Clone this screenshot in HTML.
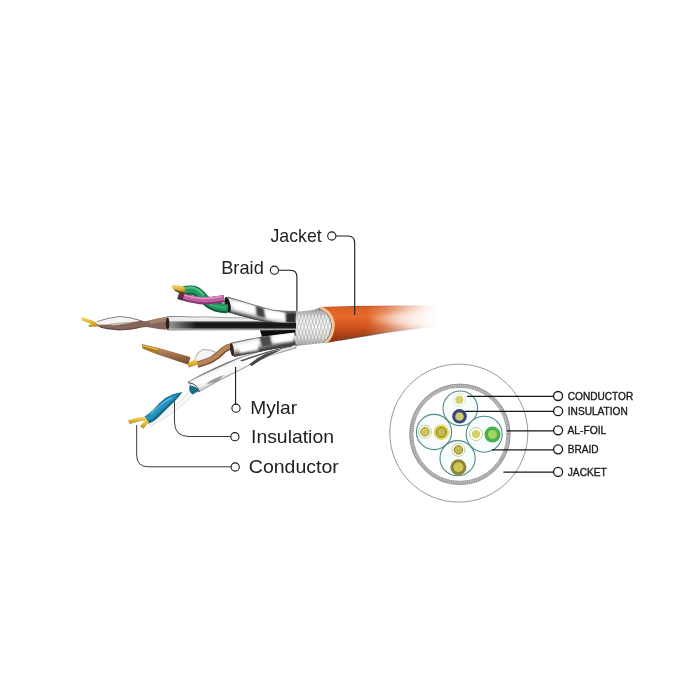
<!DOCTYPE html>
<html lang="en">
<head>
<meta charset="utf-8">
<title>Cable structure</title>
<style>
html,body{margin:0;padding:0;background:#fff;}
body{width:700px;height:700px;overflow:hidden;}
svg{display:block;}
.lbl{font-family:"Liberation Sans",sans-serif;font-size:19px;fill:#222;}
.cap{font-family:"Liberation Sans",sans-serif;font-size:10.2px;fill:#1a1a1a;stroke:#1a1a1a;stroke-width:0.35;}
.ld{fill:none;stroke:#1a1a1a;stroke-width:1.1;}
.dot{fill:#fff;stroke:#1a1a1a;stroke-width:1.1;}
</style>
</head>
<body>
<svg width="700" height="700" viewBox="0 0 700 700">
<defs>
<linearGradient id="gJ" x1="0" y1="0" x2="0" y2="1">
<stop offset="0" stop-color="#b04c1c"/>
<stop offset="0.08" stop-color="#dc5f26"/>
<stop offset="0.3" stop-color="#e66a2a"/>
<stop offset="0.55" stop-color="#d2561e"/>
<stop offset="0.78" stop-color="#ae4216"/>
<stop offset="0.94" stop-color="#8e3614"/>
<stop offset="1" stop-color="#7e3c22"/>
</linearGradient>
<linearGradient id="gFade" gradientUnits="userSpaceOnUse" x1="366" y1="0" x2="436" y2="0">
<stop offset="0" stop-color="#fff" stop-opacity="0"/>
<stop offset="0.3" stop-color="#fff" stop-opacity="0.28"/>
<stop offset="0.6" stop-color="#fff" stop-opacity="0.66"/>
<stop offset="0.85" stop-color="#fff" stop-opacity="0.92"/>
<stop offset="1" stop-color="#fff" stop-opacity="1"/>
</linearGradient>
<radialGradient id="gGlow" cx="0.5" cy="0.5" r="0.5">
<stop offset="0" stop-color="#fff" stop-opacity="0.7"/>
<stop offset="0.5" stop-color="#fff" stop-opacity="0.45"/>
<stop offset="0.8" stop-color="#fff" stop-opacity="0.15"/>
<stop offset="1" stop-color="#fff" stop-opacity="0"/>
</radialGradient>
<linearGradient id="gBr" x1="0" y1="0" x2="0" y2="1">
<stop offset="0" stop-color="#6e6e6e"/>
<stop offset="0.1" stop-color="#b8b8b8"/>
<stop offset="0.25" stop-color="#f0f0f0"/>
<stop offset="0.5" stop-color="#fbfbfb"/>
<stop offset="0.75" stop-color="#e4e4e4"/>
<stop offset="0.92" stop-color="#b4b4b4"/>
<stop offset="1" stop-color="#707070"/>
</linearGradient>
<linearGradient id="gTA" gradientUnits="userSpaceOnUse" x1="262" y1="306" x2="258" y2="321">
<stop offset="0" stop-color="#777"/>
<stop offset="0.12" stop-color="#e4e4e4"/>
<stop offset="0.4" stop-color="#f6f6f6"/>
<stop offset="0.7" stop-color="#c8c8c8"/>
<stop offset="0.9" stop-color="#6a6a6a"/>
<stop offset="1" stop-color="#2a2a2a"/>
</linearGradient>
<linearGradient id="gTB" gradientUnits="userSpaceOnUse" x1="0" y1="316.4" x2="0" y2="331">
<stop offset="0" stop-color="#5a5a5a"/>
<stop offset="0.08" stop-color="#f4f4f4"/>
<stop offset="0.3" stop-color="#e6e6e6"/>
<stop offset="0.4" stop-color="#2a2a2a"/>
<stop offset="0.55" stop-color="#141414"/>
<stop offset="0.76" stop-color="#1e1e1e"/>
<stop offset="0.86" stop-color="#8a8a8a"/>
<stop offset="1" stop-color="#e0e0e0"/>
</linearGradient>
<linearGradient id="gTBl" gradientUnits="userSpaceOnUse" x1="168" y1="0" x2="196" y2="0">
<stop offset="0" stop-color="#c8c8c8" stop-opacity="0.75"/>
<stop offset="1" stop-color="#c8c8c8" stop-opacity="0"/>
</linearGradient>
<linearGradient id="gTC" gradientUnits="userSpaceOnUse" x1="262" y1="336.5" x2="265" y2="350.5">
<stop offset="0" stop-color="#777"/>
<stop offset="0.1" stop-color="#ececec"/>
<stop offset="0.4" stop-color="#f6f6f6"/>
<stop offset="0.62" stop-color="#b8b8b8"/>
<stop offset="0.84" stop-color="#5e5e5e"/>
<stop offset="1" stop-color="#303030"/>
</linearGradient>
<linearGradient id="gTD" gradientUnits="userSpaceOnUse" x1="238" y1="358" x2="243" y2="369">
<stop offset="0" stop-color="#6a6a6a"/>
<stop offset="0.12" stop-color="#f2f2f2"/>
<stop offset="0.5" stop-color="#ffffff"/>
<stop offset="0.85" stop-color="#f4f4f4"/>
<stop offset="1" stop-color="#dadada"/>
</linearGradient>
<linearGradient id="gGold" x1="0" y1="0" x2="0" y2="1">
<stop offset="0" stop-color="#f3d873"/>
<stop offset="0.5" stop-color="#e0b53a"/>
<stop offset="1" stop-color="#b88a1e"/>
</linearGradient>
<linearGradient id="gBrown" x1="0" y1="0" x2="0" y2="1">
<stop offset="0" stop-color="#b98a62"/>
<stop offset="0.5" stop-color="#9a6a45"/>
<stop offset="1" stop-color="#6b4528"/>
</linearGradient>
<filter id="bl" x="-30%" y="-30%" width="160%" height="160%"><feGaussianBlur stdDeviation="1.3"/></filter>
<clipPath id="cTA"><path d="M227.6 297 Q239 300.4 250 303.8 Q261 307.2 273 310.2 Q284 311.4 296 311.4 L296 323 L273 322.2 Q262 321.4 254 319.4 L229.4 312.8 Q225.6 305 227.6 297Z"/></clipPath>
<clipPath id="cTC"><path d="M231.4 342.6 Q247 339 262.3 336.6 L294.5 332.6 L295.5 345 L265.7 350.4 Q250 353.6 234 357 Q230 350 231.4 342.6Z"/></clipPath>
<filter id="soft" x="-5%" y="-5%" width="110%" height="110%"><feGaussianBlur stdDeviation="0.45"/></filter>
<clipPath id="cBraid"><path d="M288 312 L300 311.6 Q310 310.6 316 309.2 L320 307.6 Q332 312 333.2 325 Q332.6 337 325.4 342.8 L304 345 L287 347 Q292 330 288 312Z"/></clipPath>
</defs>
<rect width="700" height="700" fill="#fff"/>

<!-- CABLE -->
<g id="cable" filter="url(#soft)">
<!-- jacket -->
<path d="M320 307 L352 306 L400 305.4 L448 305 L448 326 L420 328.3 L390 332 L360 337 L326 343 Q336 325 320 307Z" fill="url(#gJ)"/>
<path d="M340 340 L360 336.6 L390 331.6 L420 328 L448 325.6" fill="none" stroke="#5a4a44" stroke-width="1.6" opacity="0.5"/>
<ellipse cx="418" cy="319" rx="50" ry="10" fill="url(#gGlow)"/>
<path d="M360 300 H450 V345 H360Z" fill="url(#gFade)"/>
<!-- braid -->
<path d="M288 312 L300 311.6 Q310 310.6 316 309.2 L320 307.6 Q332 312 333.2 325 Q332.6 337 325.4 342.8 L304 345 L287 347 Q292 330 288 312Z" fill="url(#gBr)"/>
<g clip-path="url(#cBraid)" stroke="#8f8f8f" stroke-width="0.45" fill="none">
<path d="M270.4 306 L283.4 348 M273.8 306 L286.8 348 M277.2 306 L290.2 348 M280.6 306 L293.6 348 M284.0 306 L297.0 348 M287.4 306 L300.4 348 M290.8 306 L303.8 348 M294.2 306 L307.2 348 M297.6 306 L310.6 348 M301.0 306 L314.0 348 M304.4 306 L317.4 348 M307.8 306 L320.8 348 M311.2 306 L324.2 348 M314.6 306 L327.6 348 M318.0 306 L331.0 348 M321.4 306 L334.4 348 M324.8 306 L337.8 348 M328.2 306 L341.2 348 M331.6 306 L344.6 348 M335.0 306 L348.0 348 M338.4 306 L351.4 348 M341.8 306 L354.8 348 M345.2 306 L358.2 348 M348.6 306 L361.6 348"/>
<path d="M283.4 306 L270.4 348 M286.8 306 L273.8 348 M290.2 306 L277.2 348 M293.6 306 L280.6 348 M297.0 306 L284.0 348 M300.4 306 L287.4 348 M303.8 306 L290.8 348 M307.2 306 L294.2 348 M310.6 306 L297.6 348 M314.0 306 L301.0 348 M317.4 306 L304.4 348 M320.8 306 L307.8 348 M324.2 306 L311.2 348 M327.6 306 L314.6 348 M331.0 306 L318.0 348 M334.4 306 L321.4 348 M337.8 306 L324.8 348 M341.2 306 L328.2 348 M344.6 306 L331.6 348 M348.0 306 L335.0 348 M351.4 306 L338.4 348 M354.8 306 L341.8 348 M358.2 306 L345.2 348 M361.6 306 L348.6 348"/>
</g>
<path d="M318.6 308.4 Q330.4 312.6 331.6 325 Q331 336.6 324 342.4" fill="none" stroke="#5e5e5e" stroke-width="1" opacity="0.7"/>
<path d="M320 307.4 Q332.4 311.8 333.6 325 Q333 337.2 325.6 343" fill="none" stroke="#f2c596" stroke-width="2.6"/>
<!-- dark gap -->
<path d="M258.6 326 L295 323 L295.5 336 L262 336.8Z" fill="#0b0b0b"/>
<!-- tube D -->
<path d="M188 382 Q200 375 215 368 Q226 363 238 358.3 Q252 353.5 265 350 L296 344 L296 348 L270 355.5 Q254 362 240 370 L222 379 L198.5 392 Q192 389 188 382Z" fill="url(#gTD)" stroke="#4a4a4a" stroke-width="0.5"/>
<path d="M206 384 Q214 378 224 375 L218 381 Q212 384 206 384Z" fill="#9a9a9a"/>
<path d="M240 360.6 Q266 351 292 345.2 L292 346.4 Q268 351.6 242 361.6Z" fill="#555"/>
<path d="M249 364.4 Q257 357.6 266 353.6 Q274 350.6 282 349.4 Q273 353.6 266 357 Q258 361.4 252 366Z" fill="#4a4a4a"/>
<!-- tube C -->
<path d="M231.4 342.6 Q247 339 262.3 336.6 L294.5 332.6 L295.5 345 L265.7 350.4 Q250 353.6 234 357 Q230 350 231.4 342.6Z" fill="url(#gTC)"/>
<g clip-path="url(#cTC)" filter="url(#bl)">
<path d="M259 336 L270 335 L272 346 L262 347Z" fill="#4a4a4a"/>
<path d="M238 345 L258 341 L258 350 L240 353Z" fill="#ffffff"/>
<path d="M273 336 L293 334 L293 341 L274 343Z" fill="#ffffff"/>
<path d="M250 352 L294 343.6 L294 347 L252 355Z" fill="#444"/>
</g>
<!-- tube B -->
<path d="M167.5 316.4 L220 317.6 L260 318.6 L296 320 L296 330 L220 330.7 L168 331 Q165 324 167.5 316.4Z" fill="url(#gTB)"/>
<path d="M167.5 321 L196 321.6 L196 329 L168 329Z" fill="url(#gTBl)"/>
<path d="M166 316.8 Q178 316 192 317 Q206 316.4 222 317.6 L250 318" fill="none" stroke="#4a4a4a" stroke-width="0.5"/>
<!-- tube A -->
<path d="M227.6 297 Q239 300.4 250 303.8 Q261 307.2 273 310.2 Q284 311.4 296 311.4 L296 323 L273 322.2 Q262 321.4 254 319.4 L229.4 312.8 Q225.6 305 227.6 297Z" fill="url(#gTA)"/>
<g clip-path="url(#cTA)" filter="url(#bl)">
<path d="M234 301 L254 306.5 L254 314 L234 309Z" fill="#ffffff"/>
<path d="M255.5 305.5 L263.5 308 L265.5 318 L257 316Z" fill="#3f3f3f"/>
<path d="M266 311 L284 313 L284 319.6 L267 318.6Z" fill="#ffffff"/>
<path d="M285.5 313 L296 313 L296 324 L286 323Z" fill="#2e2e2e"/>
<path d="M232 313 L254 319.5 L272 322.5 L272 325 L232 316Z" fill="#222"/>
</g>
<path d="M227.6 297 Q239 300.4 250 303.8 Q261 307.2 273 310.2 Q284 311.4 296 311.4" fill="none" stroke="#3a3a3a" stroke-width="0.6"/>
<ellipse cx="227.6" cy="304.8" rx="2.8" ry="8" transform="rotate(-12 227.6 304.8)" fill="#101c16"/>
<!-- pair A wires -->
<g fill="none" stroke-linecap="butt">
<path d="M182.5 291.4 Q189 289.6 194 290.4 Q199 292 204 298.5 Q208 304 215 306.6 Q221 308.2 227.8 308.6" stroke="#0e5e38" stroke-width="9.4"/>
<path d="M182.5 290.8 Q189 289 194 289.8 Q199 291.4 204 298 Q208 303.4 215 306 Q221 307.6 227.8 308" stroke="#239a60" stroke-width="6.6"/>
<path d="M184 288.6 Q189 287 194 287.8 Q199 289.6 203.5 295" stroke="#4fbf86" stroke-width="2"/>
<path d="M210 304.6 Q216 307 226 307.6" stroke="#3fb078" stroke-width="1.6"/>
<path d="M178.5 295.6 Q189 299.4 200 300.6 Q210 301 218 299.6 L224 298.6" stroke="#86356f" stroke-width="7.4"/>
<path d="M178.5 295 Q189 298.6 200 299.8 Q210 300.2 218 298.8 L224 297.8" stroke="#c05fa4" stroke-width="5"/>
<path d="M184 295 Q192 297.6 202 298.4 Q212 298.4 222 296.4" stroke="#dc93c6" stroke-width="1.6"/>
<path d="M178.5 295.4 L183.5 297" stroke="#3a2030" stroke-width="7" opacity="0.75"/>
</g>
<path d="M171.5 285.4 Q177 284.4 184.6 287 L185 292.4 Q178 292.6 173.5 290Z" fill="url(#gGold)"/>
<path d="M175 289.5 Q179 291.5 185 292 L184 294.4 Q178 293 175 291Z" fill="#5b4420"/>
<!-- pair B wires -->
<path d="M95 322.6 Q106 318 120 316.4 Q132 317.4 141 320.6 Q145 321.8 149 320.6 Q158 318 166.5 317 L166.5 329.8 Q158 329.6 150 327.6 Q146 326.6 142 327.6 Q130 330.6 118 330.2 Q104 329 95 325.6Z" fill="#85655a"/>
<path d="M100 326.6 Q112 329.4 122 329.4 Q134 328.6 143 326.4 Q132 330.4 118 330.2 Q107 329.4 100 327.4Z" fill="#5c4438"/>
<path d="M95.5 322.3 Q106 318 120 316.6 Q131 317.4 141 320.8 Q130 322.6 118 323.8 Q106 325 97 324.6Z" fill="#f6f3f0"/>
<path d="M110 323.6 Q122 322 134 321.4 Q125 324.4 112 325.6Z" fill="#c9b8b0"/>
<path d="M97 321.6 Q108 317.6 120 316.4 Q132 317.4 142 321" fill="none" stroke="#4a4a4a" stroke-width="0.6"/>
<path d="M149 320.6 Q158 318 166.5 317 L166.5 322 Q158 322.6 150 324Z" fill="#a68066"/>
<ellipse cx="167.6" cy="323.6" rx="1.8" ry="6.2" fill="#2a1e18"/>
<path d="M81.4 316.8 L93.5 321 L96.5 323 L97 326.4 L89 327 L88.4 324.8 L92 324.2 L82 320.6Z" fill="url(#gGold)"/>
<!-- pair C wires -->
<path d="M158 347.8 L190.5 357 L188.5 364.8 L157.5 354.6Z" fill="url(#gBrown)"/>
<path d="M141.8 344 L158.6 348 L158 354.8 L142.4 348.4Z" fill="#a87a28"/>
<path d="M142.4 344.8 L158.4 348.8 L158.2 350.4 L142.4 346.2Z" fill="#dcb650"/>
<path d="M194.7 358.5 Q198 351 203 349.5 Q210 349 217 352.8 L228 356 L222 359.5 L200 366Z" fill="#f4f4f6"/>
<path d="M194.7 358.5 Q198 351 203 349.5 Q210 349 217 352.8" fill="none" stroke="#555" stroke-width="0.5"/>
<path d="M197.5 364.6 Q205 362.5 211 360 Q218 356 222 351.5 Q225 348 231.5 346.4" fill="none" stroke="#7d5230" stroke-width="6.6"/>
<path d="M197.5 364 Q205 361.9 211 359.4 Q218 355.4 222 350.9 Q225 347.4 231.5 345.8" fill="none" stroke="#b98558" stroke-width="4.4"/>
<path d="M187 364 L196 358.6 L198 364.4 L189 367.6Z" fill="url(#gGold)"/>
<ellipse cx="232" cy="349.6" rx="1.8" ry="6.6" transform="rotate(-8 232 349.6)" fill="#33261c"/>
<!-- pair D wires -->
<path d="M147.5 423 Q162 415 175 405.5 Q183 399.5 190.5 389 L195 392.4 Q187 402 178.5 408.5 Q166 417.5 151 426Z" fill="#f5f8fa" stroke="#b8b8b8" stroke-width="0.4"/>
<path d="M144.6 416.6 Q149.4 414 153.6 409.6 Q159 402.6 165.4 398 Q172.6 393.6 182.6 392 Q177.6 398.8 171 405 Q163.4 412.2 157.4 418.2 Q152.4 422.8 148 423.4Z" fill="#15688c"/>
<path d="M145.6 416.4 Q150.2 414 154.4 409.8 Q160 403.2 166 399 Q172 395.4 179.4 393.6 Q174 399.4 168.4 404.2 Q161 410.6 155.2 416.6 Q151.6 420 148.6 421Z" fill="#2493be"/>
<path d="M151 414 Q156 408.6 162 403.6 Q167 400 172 397.6" fill="none" stroke="#5cbbe0" stroke-width="1.2"/>
<path d="M189.6 385.4 Q196.4 385.6 199 391 L192.5 394.6 Q188 391 189.6 385.4Z" fill="#1b6e86"/>
<path d="M188.6 382.6 Q196.5 383.5 199.4 391.6" fill="none" stroke="#222" stroke-width="0.9"/>
<path d="M128 420.2 L139.6 417 L146 417.4 L147.4 420.4 L140 421.2 L129.5 424Z" fill="url(#gGold)"/>
<path d="M140 426.2 L145.6 419.6 L149 422 L143.4 428.8Z" fill="url(#gGold)"/>
</g>

<!-- LEFT LABELS -->
<g id="labels">
<path class="ld" d="M336 236 H348 Q354.7 236 354.7 243 V315"/>
<path class="ld" d="M278.5 270.2 H290.5 Q296.9 270.2 296.9 277 V311.6"/>
<path class="ld" d="M235.6 367 V404"/>
<path class="ld" style="stroke:#3a3a3a;stroke-width:1" d="M174.5 401.4 V422 Q174.5 436.5 189 436.5 H231"/>
<path class="ld" style="stroke:#3a3a3a;stroke-width:1" d="M136.7 425 V455 Q136.7 466.8 148 466.8 H231"/>
<circle class="dot" cx="331.8" cy="236" r="4.1"/>
<circle class="dot" cx="274.4" cy="270.2" r="4.1"/>
<circle class="dot" cx="236" cy="408.2" r="4.1"/>
<circle class="dot" cx="234.9" cy="436.7" r="4.1"/>
<circle class="dot" cx="235.2" cy="467" r="4.1"/>
<text class="lbl" x="270.5" y="241.6" textLength="51.2" lengthAdjust="spacingAndGlyphs">Jacket</text>
<text class="lbl" x="221.2" y="274.3" textLength="42.6" lengthAdjust="spacingAndGlyphs">Braid</text>
<text class="lbl" x="250.3" y="413.7" textLength="46.8" lengthAdjust="spacingAndGlyphs">Mylar</text>
<text class="lbl" x="251" y="442.5" textLength="83" lengthAdjust="spacingAndGlyphs">Insulation</text>
<text class="lbl" x="248.8" y="473" textLength="90" lengthAdjust="spacingAndGlyphs">Conductor</text>
</g>

<!-- CROSS SECTION -->
<g id="xsec">
<circle cx="458.8" cy="433.1" r="69" fill="none" stroke="#8c8c8c" stroke-width="0.9"/>
<circle cx="459.9" cy="434.3" r="48.7" fill="none" stroke="#c9c9c9" stroke-width="3.4"/>
<circle cx="459.9" cy="434.3" r="48.7" fill="none" stroke="#8c8c8c" stroke-width="3.2" stroke-dasharray="0.7 1.1"/>
<circle cx="459.9" cy="434.3" r="50.3" fill="none" stroke="#8a8a8a" stroke-width="0.7"/>
<circle cx="459.9" cy="434.3" r="47" fill="none" stroke="#8a8a8a" stroke-width="0.7"/>
<g fill="#f7fcfc" stroke="#4f8a8c" stroke-width="1.1">
<circle cx="460.3" cy="408.3" r="17.3"/>
<circle cx="434" cy="432" r="17.6"/>
<circle cx="484.2" cy="434.2" r="18"/>
<circle cx="457.6" cy="458.2" r="17.6"/>
</g>
<!-- top pair -->
<circle cx="459.3" cy="399.8" r="6.3" fill="#fdfdf6" stroke="#d8d6b0" stroke-width="0.6"/>
<circle cx="459.3" cy="399.8" r="4.2" fill="#d2d077"/>
<circle cx="459.5" cy="416.3" r="7.3" fill="#3d427c"/>
<circle cx="459.5" cy="416.5" r="4.3" fill="#c9cb6e"/>
<!-- left pair -->
<circle cx="425" cy="431.8" r="6.5" fill="#fffef4" stroke="#b9b56a" stroke-width="0.7"/>
<circle cx="425" cy="431.8" r="4.3" fill="#cfc75a" stroke="#8a8432" stroke-width="0.8"/>
<circle cx="441.3" cy="432.3" r="7.8" fill="#e3dc62"/>
<circle cx="441.3" cy="432.3" r="5" fill="#c4bb4c" stroke="#7d7426" stroke-width="1"/>
<!-- right pair -->
<circle cx="476" cy="434.1" r="6.5" fill="#fffef4" stroke="#b9b56a" stroke-width="0.7"/>
<circle cx="476" cy="434.1" r="4.2" fill="#d6d068"/>
<circle cx="492.5" cy="434.6" r="8" fill="#46b050"/>
<circle cx="492.5" cy="434.6" r="4.6" fill="#a6d45e"/>
<!-- bottom pair -->
<circle cx="458.4" cy="449.9" r="6.5" fill="#fffef4" stroke="#b9b56a" stroke-width="0.7"/>
<circle cx="458.4" cy="449.9" r="4.2" fill="#c3bb4e" stroke="#776e24" stroke-width="0.9"/>
<circle cx="458.4" cy="467.3" r="8" fill="#8d8336"/>
<circle cx="458.4" cy="467.3" r="5" fill="#cdc555"/>
<path d="M466.9 396.3 H553.5 M464.6 411.3 H553.5 M506.9 430.8 H553.5 M492 449.8 H553.5 M503.4 472.2 H553.5" fill="none" stroke="#161616" stroke-width="1.3"/>
<g fill="#fff" stroke="#161616" stroke-width="1.3">
<circle cx="558.1" cy="396" r="4.5"/>
<circle cx="558.1" cy="411.2" r="4.5"/>
<circle cx="558.1" cy="430.3" r="4.5"/>
<circle cx="558.1" cy="449.3" r="4.5"/>
<circle cx="558.1" cy="471.9" r="4.5"/>
</g>
<g class="cap">
<text x="567.8" y="399.8" textLength="65.4" lengthAdjust="spacingAndGlyphs">CONDUCTOR</text>
<text x="567.8" y="415" textLength="60" lengthAdjust="spacingAndGlyphs">INSULATION</text>
<text x="567.5" y="434.1" textLength="38.8" lengthAdjust="spacingAndGlyphs">AL-FOIL</text>
<text x="567.8" y="452.8" textLength="30.8" lengthAdjust="spacingAndGlyphs">BRAID</text>
<text x="567.8" y="475.7" textLength="38.9" lengthAdjust="spacingAndGlyphs">JACKET</text>
</g>
</g>
</svg>
</body>
</html>
